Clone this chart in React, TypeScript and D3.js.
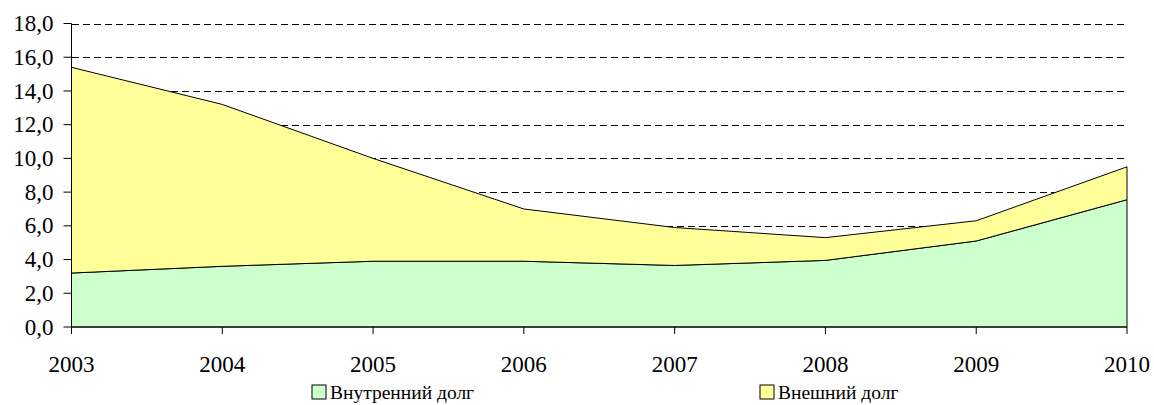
import * as d3 from 'd3';

// debt structure, 2003-2010 (stacked areas)
const years = [2003, 2004, 2005, 2006, 2007, 2008, 2009, 2010];
const internalDebt = [3.2, 3.6, 3.9, 3.9, 3.65, 3.95, 5.1, 7.55];
const externalDebt = [12.2, 9.6, 6.1, 3.1, 2.25, 1.35, 1.2, 1.95];
const seriesNames = ['Внутренний долг', 'Внешний долг'];
const seriesColors = ['#CCFFCC', '#FFFF99'];
const yTicks = [0, 2, 4, 6, 8, 10, 12, 14, 16, 18];

const FONT = 'Liberation Serif, Times New Roman, serif';
const width = 1154;
const height = 405;
const margin = { top: 23.5, right: 27, bottom: 78, left: 71.5 };

export default function App() {
  const rows = years.map((yr, i) => ({ year: yr, internal: internalDebt[i], external: externalDebt[i] }));
  const layers = d3.stack<any>().keys(['internal', 'external'])(rows);

  const x = d3.scaleLinear()
    .domain([years[0], years[years.length - 1]])
    .range([margin.left, width - margin.right]);
  const y = d3.scaleLinear()
    .domain([0, 18])
    .range([height - margin.bottom, margin.top]);

  const area = d3.area<any>()
    .x((d) => x(d.data.year))
    .y0((d) => y(d[0]))
    .y1((d) => y(d[1]));

  const fmt = (v: number) => d3.format('.1f')(v).replace('.', ',');
  const [x0, x1] = x.range();
  const yBase = y(0);

  const legendX = [312, 760];

  return (
    <svg width={width} height={height} style={{ position: 'absolute', left: 0, top: 0 }}>
      {/* dashed grid, behind the areas */}
      <g stroke="#000" strokeDasharray="7,4" shapeRendering="crispEdges">
        {yTicks.filter((t) => t > 0).map((t) => (
          <line key={t} x1={x0} x2={x1} y1={Math.round(y(t)) + 0.5} y2={Math.round(y(t)) + 0.5} />
        ))}
      </g>

      <g stroke="#000" strokeWidth={1}>
        {layers.map((layer, i) => (
          <path key={layer.key} d={area(layer) || ''} fill={seriesColors[i]} />
        ))}
      </g>

      {/* y axis */}
      <g fontFamily={FONT} fontSize={23} fill="#000">
        <line x1={x0} x2={x0} y1={y(18)} y2={yBase} stroke="#000" />
        {yTicks.map((t) => (
          <g key={t} transform={`translate(0,${y(t)})`}>
            <line x1={x0 - 8} x2={x0} stroke="#000" />
            <text x={x0 - 18} dy="0.33em" textAnchor="end">{fmt(t)}</text>
          </g>
        ))}
      </g>

      {/* x axis */}
      <g fontFamily={FONT} fontSize={23} fill="#000">
        <line x1={x0} x2={x1} y1={yBase} y2={yBase} stroke="#000" />
        {years.map((yr) => (
          <g key={yr} transform={`translate(${x(yr)},${yBase})`}>
            <line y1={0} y2={7} stroke="#000" />
            <text y={45} textAnchor="middle">{yr}</text>
          </g>
        ))}
      </g>

      {/* legend */}
      <g fontFamily={FONT} fontSize={19.5}>
        {seriesNames.map((name, i) => (
          <g key={name} transform={`translate(${legendX[i]},385)`}>
            <rect width={14} height={14} fill={seriesColors[i]} stroke="#000" />
            <text x={18} y={14}>{name}</text>
          </g>
        ))}
      </g>
    </svg>
  );
}
